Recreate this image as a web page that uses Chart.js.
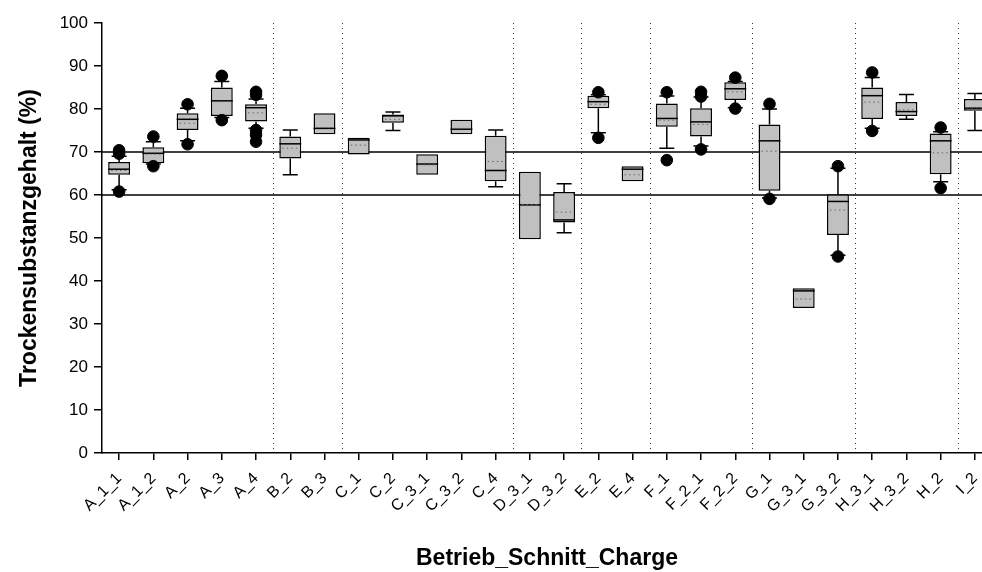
<!DOCTYPE html>
<html lang="de">
<head>
  <meta charset="UTF-8">
  <title>Trockensubstanzgehalt</title>
  <script src="https://cdn.jsdelivr.net/npm/chart.js"></script>
  <style>
    body {
      margin: 0;
      background: #fff;
      overflow: hidden;
    }
    .chart-box {
      width: 1000px;
      height: 572px;
    }
  </style>
</head>
<body>
  <div class="chart-box">
    <canvas id="boxChart" width="1000" height="572"></canvas>
  </div>

  <script>
    const categories = ["A_1_1", "A_1_2", "A_2", "A_3", "A_4", "B_2", "B_3", "C_1", "C_2", "C_3_1", "C_3_2", "C_4",
      "D_3_1", "D_3_2", "E_2", "E_4", "F_1", "F_2_1", "F_2_2", "G_1", "G_3_1", "G_3_2", "H_3_1", "H_3_2", "H_2", "I_2"];

    // Boxplot-Kennwerte je Charge
    const q1 = [64.7, 67.4, 75.1, 78.4, 77.1, 68.5, 74.1, 69.4, 76.8, 64.7, 74.1, 63.2,
      49.7, 53.6, 80.2, 63.2, 75.9, 73.6, 82.1, 61.0, 33.7, 50.7, 77.7, 78.4, 64.8, 79.6];
    const q3 = [67.7, 71.1, 79.0, 85.0, 81.1, 73.6, 79.0, 73.3, 78.7, 69.5, 77.5, 73.8,
      65.4, 60.7, 83.1, 66.7, 81.3, 80.2, 86.2, 76.4, 38.3, 60.2, 85.0, 81.6, 74.3, 82.3];
    const median = [66.0, 69.7, 77.6, 81.9, 80.3, 71.9, 75.5, 72.8, 78.4, 67.2, 75.3, 65.7,
      57.7, 54.2, 81.7, 66.0, 77.8, 77.0, 84.7, 72.6, 37.7, 58.5, 83.1, 79.4, 72.6, 80.2];
    const mean = [65.7, 69.5, 76.7, 81.7, 79.1, 70.9, 75.7, 71.6, 77.6, 67.0, 75.5, 67.8,
      57.8, 56.0, 81.1, 64.7, 77.4, 76.4, 84.0, 70.2, 35.8, 56.5, 81.6, 79.8, 69.8, 80.3];
    const whiskerLow = [61.2, 67.2, 72.6, 78.0, 75.5, 64.7, null, null, 75.0, null, null, 61.9,
      null, 51.2, 74.5, null, 70.9, 71.4, 80.3, 59.3, null, 46.0, 75.5, 77.6, 63.1, 75.0];
    const whiskerHigh = [69.0, 72.4, 80.2, 86.4, 82.3, 75.1, null, null, 79.3, null, null, 75.1,
      null, 62.6, 83.3, null, 83.0, 82.8, 86.4, 80.0, null, 66.2, 87.3, 83.4, 74.7, 83.6];
    const outliers = [[60.8, 69.6, 70.4], [66.7, 73.6], [71.8, 81.1], [77.4, 87.7], [72.4, 74.0, 75.1, 83.3, 84.0],
      [], [], [], [], [], [], [],
      [], [], [73.3, 83.9], [], [68.1, 83.9], [70.6, 82.9, 84.0], [80.1, 87.3], [59.1, 81.2], [], [45.7, 66.7],
      [74.9, 88.5], [], [61.6, 75.7], []];

    // Trennlinien nach diesen Betrieben (Index der letzten Charge)
    const groupEnds = [4, 6, 11, 13, 15, 18, 21, 24];
    const refLines = [60, 70];

    const outlierPoints = [];
    outliers.forEach((list, i) => list.forEach(v => outlierPoints.push({ x: categories[i], y: v })));

    const boxPlugin = {
      id: "boxExtras",
      beforeDatasetsDraw(chart) {
        const { ctx, chartArea, scales: { x, y } } = chart;
        ctx.save();
        // gepunktete Trennlinien
        ctx.strokeStyle = "#333";
        ctx.lineWidth = 1;
        ctx.setLineDash([1, 4]);
        groupEnds.forEach(i => {
          const px = Math.round((x.getPixelForValue(i) + x.getPixelForValue(i + 1)) / 2) + 0.5;
          ctx.beginPath();
          ctx.moveTo(px, chartArea.top);
          ctx.lineTo(px, chartArea.bottom);
          ctx.stroke();
        });
        ctx.setLineDash([]);
        ctx.strokeStyle = "#000";
        ctx.lineWidth = 1.5;
        refLines.forEach(v => {
          const py = y.getPixelForValue(v);
          ctx.beginPath();
          ctx.moveTo(chartArea.left, py);
          ctx.lineTo(chartArea.right, py);
          ctx.stroke();
        });
        ctx.restore();
      },
      afterDatasetDraw(chart, args) {
        if (args.index !== 0) return;
        const { ctx, scales: { x, y } } = chart;
        const meta = chart.getDatasetMeta(0);
        ctx.save();
        categories.forEach((c, i) => {
          const bar = meta.data[i];
          const cx = x.getPixelForValue(i);
          const half = bar.width / 2;
          const capHalf = 7.5;
          ctx.strokeStyle = "#000";
          ctx.lineWidth = 1.5;
          ctx.setLineDash([]);
          // Whisker
          [[whiskerLow[i], q1[i]], [whiskerHigh[i], q3[i]]].forEach(([w, edge]) => {
            if (w === null) return;
            const pw = y.getPixelForValue(w);
            ctx.beginPath();
            ctx.moveTo(cx, y.getPixelForValue(edge));
            ctx.lineTo(cx, pw);
            ctx.moveTo(cx - capHalf, pw);
            ctx.lineTo(cx + capHalf, pw);
            ctx.stroke();
          });
          // Median
          const pm = y.getPixelForValue(median[i]);
          ctx.beginPath();
          ctx.moveTo(cx - half, pm);
          ctx.lineTo(cx + half, pm);
          ctx.stroke();
          // Mittelwert gepunktet
          const pa = y.getPixelForValue(mean[i]);
          ctx.strokeStyle = "#666";
          ctx.lineWidth = 1;
          ctx.setLineDash([1.5, 3]);
          ctx.beginPath();
          ctx.moveTo(cx - half + 3, pa);
          ctx.lineTo(cx + half - 2, pa);
          ctx.stroke();
        });
        ctx.restore();
      }
    };

    const ctx = document.getElementById("boxChart").getContext("2d");
    new Chart(ctx, {
      type: "bar",
      data: {
        labels: categories,
        datasets: [
          {
            label: "Box",
            data: q1.map((v, i) => [v, q3[i]]),
            backgroundColor: "#c0c0c0",
            borderColor: "#000",
            borderWidth: 1.5,
            borderSkipped: false,
            barPercentage: 0.64,
            categoryPercentage: 1,
            order: 2
          },
          {
            label: "Ausreißer",
            type: "line",
            data: outlierPoints,
            showLine: false,
            pointRadius: 5.8,
            pointBackgroundColor: "#000",
            pointBorderColor: "#000",
            order: 1
          }
        ]
      },
      options: {
        responsive: false,
        animation: false,
        layout: { padding: { top: 23, right: 8, left: 0, bottom: 0 } },
        plugins: {
          legend: { display: false },
          tooltip: { enabled: false }
        },
        scales: {
          x: {
            offset: true,
            afterFit: s => { s.height = 119; },
            grid: { display: true, offset: false, drawOnChartArea: false, tickLength: 7, color: "#000", lineWidth: 1.5 },
            border: { color: "#000", width: 1.5 },
            ticks: {
              color: "#000",
              font: { family: "Arial, 'Liberation Sans'", size: 16 },
              maxRotation: 45,
              minRotation: 45,
              autoSkip: false,
              padding: 9
            },
            title: {
              display: true,
              text: "Betrieb_Schnitt_Charge",
              color: "#000",
              font: { family: "Arial, 'Liberation Sans'", size: 23, weight: "bold" },
              padding: { top: 0, bottom: 0 }
            }
          },
          y: {
            min: 0,
            max: 100,
            afterFit: s => { s.width = 102; },
            grid: { display: true, drawOnChartArea: false, tickLength: 8, color: "#000", lineWidth: 1.5 },
            border: { color: "#000", width: 1.5 },
            ticks: {
              stepSize: 10,
              color: "#000",
              font: { family: "Arial, 'Liberation Sans'", size: 17 },
              padding: 6
            },
            title: {
              display: true,
              text: "Trockensubstanzgehalt (%)",
              color: "#000",
              font: { family: "Arial, 'Liberation Sans'", size: 23, weight: "bold" },
              padding: { top: 16, bottom: 16 }
            }
          }
        }
      },
      plugins: [boxPlugin]
    });
  </script>
</body>
</html>
